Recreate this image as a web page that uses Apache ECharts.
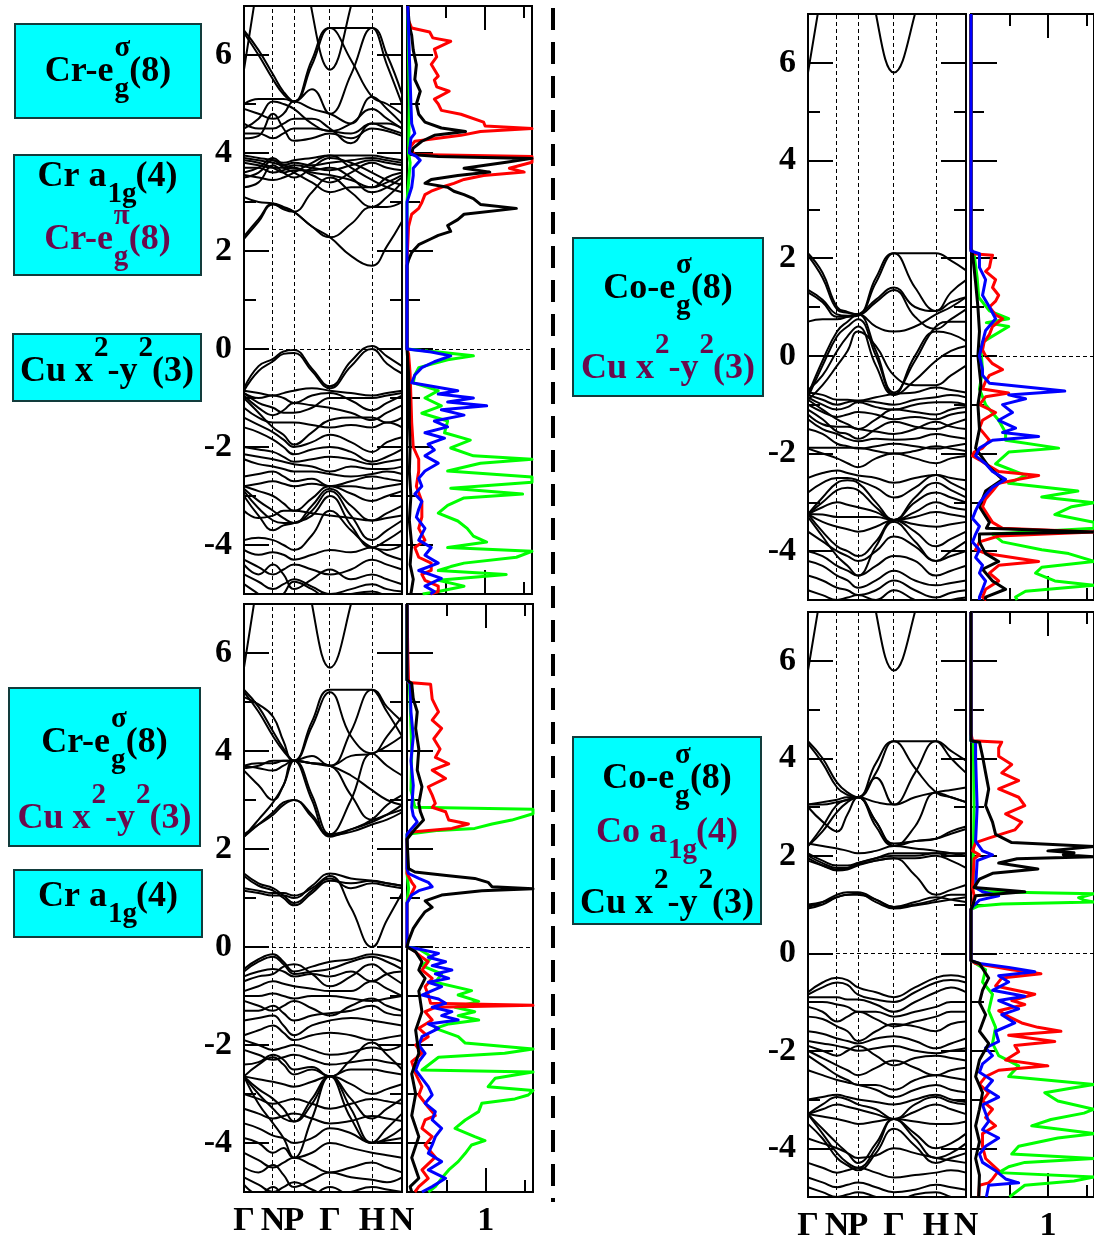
<!DOCTYPE html>
<html>
<head>
<meta charset="utf-8">
<script src="https://cdn.jsdelivr.net/npm/echarts@6/dist/echarts.min.js"></script>
<style>
html,body{margin:0;padding:0;background:#fff;}
#chart{width:1094px;height:1243px;}
</style>
</head>
<body>
<div id="chart"></div>
<script>
// ---------- k-path and axis ticks ----------
const kTicks = [0, 0.184, 0.316, 0.544, 0.81, 1.0];
const kLabels = ['Γ', 'N', 'P', 'Γ', 'H', 'N'];
// sampling of every band: high-symmetry points and the midpoints between them
const kGrid = [0, 0.092, 0.184, 0.25, 0.316, 0.43, 0.544, 0.677, 0.81, 0.905, 1.0];
const energyMajor = [-4, -2, 0, 2, 4, 6];
const energyMinor = [-3, -1, 1, 3, 5];
const dosMajor = [1];
const dosMinor = [0.5, 1.5];

// ---------- band energies (eV) at kGrid ----------
const bandsTL = [
  [5.7, 7.6, 9.5, 10, 9.5, 6.9, 5.7, 7.0, 9, 10, 10],
  [6.5, 6.1, 5.6, 5.25, 5.05, 5.9, 6.55, 6.55, 6.55, 6.0, 5.2],
  [6.45, 6.0, 5.5, 5.2, 5.05, 5.3, 4.8, 5.6, 6.55, 5.8, 5.0],
  [5.0, 5.1, 5.1, 5.1, 5.05, 5.8, 6.55, 5.9, 5.15, 5.0, 4.8],
  [4.9, 4.8, 4.7, 4.8, 5.05, 4.9, 4.8, 4.6, 5.15, 4.9, 4.6],
  [4.6, 4.5, 4.5, 4.6, 4.7, 4.7, 4.5, 4.2, 4.6, 4.6, 4.5],
  [4.4, 4.4, 4.3, 4.4, 4.5, 4.5, 4.45, 4.4, 4.6, 4.5, 4.4],
  [4.3, 4.35, 4.8, 4.5, 4.25, 4.3, 4.4, 4.3, 4.5, 4.45, 4.35],
  [4.5, 4.7, 5.05, 5.0, 4.9, 4.6, 4.45, 4.6, 4.9, 4.7, 4.5],
  [2.3, 2.65, 2.97, 2.9, 2.8, 2.5, 2.28, 2.55, 2.9, 2.9, 3.0],
  [3.1, 3.0, 2.97, 2.85, 2.8, 3.2, 3.5, 3.2, 2.9, 3.1, 3.4],
  [2.25, 2.6, 2.95, 2.88, 2.8, 2.5, 2.28, 1.9, 1.7, 2.1, 2.6],
  [3.9, 3.85, 3.8, 3.75, 3.8, 3.75, 3.8, 3.85, 3.9, 3.85, 3.8],
  [3.8, 3.75, 3.7, 3.7, 3.75, 3.7, 3.65, 3.75, 3.85, 3.8, 3.75],
  [3.7, 3.7, 3.6, 3.65, 3.7, 3.55, 3.4, 3.6, 3.8, 3.7, 3.65],
  [3.6, 3.7, 3.9, 3.75, 3.7, 3.6, 3.55, 3.45, 3.3, 3.5, 3.6],
  [3.5, 3.6, 3.85, 3.7, 3.6, 3.4, 3.2, 3.3, 3.3, 3.4, 3.55],
  [3.95, 3.9, 3.85, 3.8, 3.85, 3.9, 3.95, 3.95, 3.95, 3.9, 3.85],
  [3.3, 3.4, 3.75, 3.6, 3.5, 3.7, 3.9, 3.8, 3.6, 3.45, 3.35],
  [3.55, 3.5, 3.45, 3.5, 3.6, 3.8, 3.95, 3.7, 3.45, 3.3, 3.2],
  [3.85, 3.8, 3.7, 3.6, 3.65, 3.65, 3.7, 3.5, 3.2, 3.3, 3.5],
  [-0.8, -0.35, -0.2, -0.05, -0.02, -0.4, -0.76, -0.25, 0.06, -0.15, -0.35],
  [-0.85, -0.45, -0.25, -0.1, -0.08, -0.45, -0.8, -0.35, 0.0, -0.3, -0.5],
  [-0.85, -0.9, -0.95, -0.9, -0.85, -0.8, -0.85, -0.9, -0.95, -0.9, -0.85],
  [-0.9, -1.0, -0.95, -1.0, -1.1, -0.95, -0.9, -1.05, -1.25, -1.1, -0.95],
  [-0.95, -1.2, -1.35, -1.25, -1.1, -1.15, -1.2, -1.3, -1.45, -1.3, -1.15],
  [-1.0, -1.3, -1.6, -1.75, -1.95, -1.7, -1.45, -1.4, -1.4, -1.5, -1.4],
  [-1.2, -1.4, -1.5, -1.5, -1.5, -1.55, -1.6, -1.55, -1.6, -1.5, -1.6],
  [-1.4, -1.55, -1.7, -1.85, -2.0, -1.9, -1.75, -1.9, -2.1, -1.9, -1.8],
  [-1.6, -1.7, -1.85, -2.0, -2.15, -2.05, -2.0, -2.1, -2.3, -2.2, -2.05],
  [-2.0, -2.05, -2.1, -2.2, -2.3, -2.25, -2.2, -2.25, -2.35, -2.3, -2.25],
  [-2.15, -2.2, -2.25, -2.3, -2.35, -2.4, -2.5, -2.4, -2.45, -2.45, -2.4],
  [-2.25, -2.35, -2.4, -2.45, -2.5, -2.5, -2.55, -2.6, -2.55, -2.5, -2.55],
  [-2.6, -2.55, -2.5, -2.6, -2.7, -2.65, -2.8, -2.7, -2.6, -2.65, -2.7],
  [-2.8, -2.75, -2.7, -2.75, -2.8, -2.75, -2.8, -2.8, -2.85, -2.8, -2.75],
  [-2.8, -2.9, -3.0, -3.15, -3.3, -3.05, -2.8, -2.95, -3.1, -3.0, -2.9],
  [-2.85, -3.1, -3.3, -3.45, -3.55, -3.2, -2.85, -3.2, -3.5, -3.35, -3.2],
  [-2.9, -3.25, -3.5, -3.55, -3.55, -3.3, -2.9, -3.4, -3.9, -3.7, -3.5],
  [-3.0, -3.4, -3.7, -3.6, -3.55, -3.4, -3.0, -3.6, -4.05, -3.9, -3.7],
  [-3.3, -3.45, -3.4, -3.3, -3.3, -3.35, -3.4, -3.45, -3.5, -3.45, -3.4],
  [-3.9, -3.85, -3.9, -4.0, -4.1, -3.8, -3.3, -3.7, -4.05, -4.1, -4.0],
  [-4.1, -4.2, -4.15, -4.2, -4.3, -4.2, -4.1, -4.15, -4.05, -4.2, -4.3],
  [-4.3, -4.45, -4.6, -4.5, -4.4, -4.5, -4.6, -4.5, -4.3, -4.4, -4.5],
  [-4.4, -4.6, -4.4, -4.6, -4.9, -4.7, -4.5, -4.7, -4.6, -4.7, -4.8],
  [-4.6, -4.75, -4.9, -4.8, -4.7, -4.85, -5.0, -4.9, -4.8, -4.9, -4.95],
  [-4.8, -5.0, -5.2, -5.0, -4.75, -4.9, -5.1, -5.0, -4.95, -5.05, -5.2],
  [-0.9, -1.1, -1.2, -1.3, -1.3, -1.2, -1.0, -1.0, -1.0, -0.95, -0.9]
];

const bandsBL = [
  [5.7, 7.6, 9.5, 10, 9.5, 7.0, 5.7, 7.0, 9, 10, 10],
  [5.25, 4.9, 4.4, 4.05, 3.8, 4.6, 5.25, 5.25, 5.25, 4.9, 4.6],
  [5.2, 4.8, 4.3, 4.0, 3.8, 4.5, 5.2, 4.3, 3.95, 4.3, 4.7],
  [3.65, 3.7, 3.8, 3.8, 3.8, 3.75, 3.7, 4.4, 5.25, 4.8, 4.3],
  [3.7, 3.75, 3.75, 3.8, 3.8, 3.1, 2.3, 3.0, 3.95, 3.7, 3.5],
  [3.6, 3.3, 3.0, 3.3, 3.8, 3.0, 2.25, 2.4, 2.6, 2.9, 3.1],
  [2.25, 2.6, 2.95, 3.3, 3.8, 3.75, 3.7, 3.1, 2.6, 2.7, 2.8],
  [2.3, 2.5, 2.7, 2.9, 3.0, 2.7, 2.3, 2.4, 2.55, 2.7, 2.9],
  [2.25, 2.5, 2.75, 2.95, 3.0, 2.65, 2.28, 2.35, 2.5, 2.6, 2.75],
  [3.7, 3.65, 3.6, 3.7, 3.8, 3.75, 3.7, 3.5, 3.2, 3.0, 2.9],
  [5.1, 4.95, 4.7, 4.2, 3.8, 3.9, 3.7, 3.9, 3.95, 4.1, 4.3],
  [1.5, 1.3, 1.2, 1.05, 0.9, 1.15, 1.4, 1.2, 1.3, 1.25, 1.2],
  [1.45, 1.25, 1.15, 1.0, 0.85, 1.1, 1.35, 1.3, 1.35, 1.3, 1.25],
  [1.2, 1.15, 1.1, 1.1, 1.05, 1.2, 1.45, 0.8, 0.0, 0.55, 1.1],
  [1.15, 1.1, 1.05, 1.05, 1.0, 1.25, 1.5, 1.4, 1.35, 1.3, 1.25],
  [-0.45, -0.25, -0.15, -0.3, -0.5, -0.4, -0.3, -0.25, -0.15, -0.2, -0.3],
  [-0.5, -0.3, -0.2, -0.35, -0.55, -0.5, -0.45, -0.3, -0.2, -0.3, -0.45],
  [-0.6, -0.5, -0.45, -0.5, -0.6, -0.55, -0.6, -0.5, -0.7, -0.55, -0.5],
  [-0.7, -0.6, -0.55, -0.4, -0.35, -0.55, -0.8, -0.6, -0.35, -0.55, -0.75],
  [-0.9, -0.8, -0.7, -0.75, -0.8, -0.85, -0.9, -0.9, -0.7, -0.85, -1.0],
  [-1.0, -1.0, -0.95, -1.0, -1.05, -1.0, -1.0, -1.05, -1.1, -1.05, -1.0],
  [-1.1, -1.2, -1.3, -1.2, -1.1, -1.25, -1.4, -1.2, -1.05, -1.2, -1.3],
  [-1.3, -1.3, -1.2, -1.35, -1.5, -1.4, -1.35, -1.3, -1.2, -1.35, -1.4],
  [-1.5, -1.45, -1.4, -1.6, -1.8, -1.6, -1.5, -1.45, -1.5, -1.55, -1.6],
  [-1.8, -1.7, -1.6, -1.75, -1.9, -1.8, -1.75, -1.8, -1.9, -1.85, -1.8],
  [-1.9, -2.0, -2.1, -2.05, -2.0, -2.1, -2.2, -2.15, -2.05, -2.1, -2.0],
  [-2.1, -2.2, -2.3, -2.25, -2.2, -2.3, -2.4, -2.35, -2.3, -2.35, -2.4],
  [-2.4, -2.35, -2.2, -2.3, -2.5, -2.45, -2.64, -2.5, -2.5, -2.55, -2.6],
  [-2.64, -2.4, -2.25, -2.4, -2.6, -2.5, -2.64, -2.3, -1.95, -2.2, -2.5],
  [-2.64, -2.7, -2.75, -2.8, -2.85, -2.75, -2.64, -2.8, -3.0, -2.9, -2.8],
  [-2.64, -2.9, -3.1, -3.3, -3.56, -3.1, -2.64, -3.1, -3.5, -3.3, -3.1],
  [-2.64, -3.0, -3.3, -3.5, -3.56, -3.2, -2.64, -3.3, -3.99, -3.7, -3.4],
  [-2.64, -3.2, -3.6, -3.9, -4.3, -3.5, -2.64, -3.5, -4.0, -3.9, -3.7],
  [-3.0, -3.1, -3.2, -3.15, -3.1, -3.2, -3.3, -3.2, -3.1, -3.15, -3.2],
  [-3.3, -3.4, -3.5, -3.45, -3.4, -3.5, -3.6, -3.55, -3.45, -3.5, -3.55],
  [-3.6, -3.7, -3.85, -3.9, -4.0, -3.9, -3.7, -3.8, -4.0, -3.95, -3.9],
  [-3.9, -4.0, -4.2, -4.1, -4.3, -4.2, -4.0, -4.1, -4.2, -4.25, -4.3],
  [-4.2, -4.35, -4.5, -4.4, -4.3, -4.45, -4.6, -4.5, -4.4, -4.5, -4.6],
  [-4.5, -4.6, -4.45, -4.65, -4.9, -4.75, -4.6, -4.7, -4.75, -4.8, -4.7],
  [-4.7, -4.85, -5.0, -4.9, -4.8, -4.95, -5.1, -5.0, -4.9, -4.95, -5.0],
  [-4.85, -5.05, -4.9, -5.1, -5.3, -5.1, -4.9, -5.1, -5.2, -5.1, -5.05]
];

const bandsTR = [
  [5.8, 7.6, 9.5, 10, 9.5, 7.0, 5.8, 7.0, 9, 10, 10],
  [2.1, 1.7, 1.0, 0.9, 0.85, 1.6, 2.1, 2.1, 2.1, 1.95, 1.75],
  [2.05, 1.6, 0.95, 0.88, 0.85, 1.5, 2.1, 1.4, 0.92, 1.3, 1.55],
  [1.35, 1.15, 0.85, 0.82, 0.85, 1.15, 1.4, 1.0, 0.92, 1.1, 1.2],
  [1.3, 1.1, 0.8, 0.8, 0.82, 1.1, 1.35, 0.8, 0.55, 0.75, 0.95],
  [-0.8, -0.1, 0.5, 0.7, 0.85, 0.1, -0.75, -0.1, 0.6, 0.7, 0.7],
  [-0.85, -0.2, 0.4, 0.6, 0.75, 0.0, -0.8, 0.0, 0.5, 0.45, 0.3],
  [-0.7, -0.4, 0.1, 0.4, 0.6, -0.2, -0.8, -0.5, -0.1, 0.1, 0.2],
  [-0.9, -0.6, -0.2, 0.1, 0.5, 0.2, -0.4, -0.6, -0.6, -0.4, -0.2],
  [0.7, 0.75, 0.75, 0.8, 0.85, 0.6, 0.5, 0.6, 0.85, 1.0, 1.2],
  [-0.75, -0.8, -0.9, -0.9, -0.92, -0.85, -0.78, -0.75, -0.65, -0.7, -0.75],
  [-0.8, -0.9, -1.0, -0.95, -0.92, -0.95, -1.0, -0.9, -0.85, -0.8, -0.85],
  [-0.85, -1.0, -1.1, -1.05, -0.95, -1.05, -1.1, -1.0, -0.95, -0.95, -1.0],
  [-0.9, -1.1, -1.3, -1.4, -1.5, -1.3, -1.1, -1.15, -1.2, -1.1, -1.05],
  [-1.0, -1.15, -1.25, -1.2, -1.15, -1.2, -1.3, -1.25, -1.3, -1.2, -1.15],
  [-1.1, -1.3, -1.55, -1.6, -1.7, -1.5, -1.35, -1.45, -1.5, -1.4, -1.3],
  [-1.2, -1.4, -1.45, -1.45, -1.5, -1.55, -1.6, -1.5, -1.35, -1.45, -1.5],
  [-1.3, -1.5, -1.6, -1.7, -1.75, -1.7, -1.72, -1.7, -1.6, -1.65, -1.7],
  [-1.5, -1.6, -1.8, -1.85, -1.9, -1.85, -1.8, -1.85, -1.9, -1.85, -1.8],
  [-1.88, -1.88, -1.88, -1.88, -1.88, -1.95, -2.0, -1.95, -1.85, -1.9, -1.95],
  [-1.9, -2.0, -2.1, -2.2, -2.28, -2.1, -2.0, -2.1, -2.2, -2.1, -2.05],
  [-2.5, -2.4, -2.35, -2.4, -2.45, -2.5, -2.6, -2.5, -2.44, -2.5, -2.55],
  [-2.8, -2.6, -2.5, -2.5, -2.55, -2.7, -2.9, -2.7, -2.44, -2.6, -2.75],
  [-3.24, -2.9, -2.6, -2.55, -2.6, -3.0, -3.36, -2.9, -2.6, -2.75, -2.9],
  [-3.24, -3.0, -2.75, -2.7, -2.75, -3.1, -3.36, -3.0, -2.8, -2.9, -3.0],
  [-3.24, -3.1, -3.0, -3.05, -3.1, -3.2, -3.36, -3.2, -3.0, -3.1, -3.15],
  [-3.24, -3.25, -3.3, -3.3, -3.3, -3.3, -3.36, -3.3, -3.2, -3.25, -3.3],
  [-3.24, -3.4, -3.5, -3.55, -3.6, -3.5, -3.36, -3.45, -3.5, -3.45, -3.4],
  [-3.24, -3.6, -3.9, -4.0, -4.1, -3.8, -3.36, -3.6, -3.9, -3.75, -3.6],
  [-3.3, -3.7, -4.1, -4.3, -4.5, -3.9, -3.4, -3.8, -4.2, -4.0, -3.8],
  [-3.6, -3.8, -4.0, -4.1, -4.2, -4.0, -3.7, -3.9, -4.2, -4.1, -4.0],
  [-4.0, -4.1, -4.3, -4.4, -4.5, -4.3, -4.1, -4.2, -4.5, -4.4, -4.3],
  [-4.2, -4.3, -4.5, -4.6, -4.75, -4.6, -4.4, -4.6, -4.7, -4.65, -4.6],
  [-4.5, -4.6, -4.75, -4.8, -4.9, -4.8, -4.6, -4.8, -4.95, -4.85, -4.8],
  [-4.8, -4.9, -5.0, -4.95, -4.9, -5.0, -4.8, -5.0, -5.1, -5.0, -4.95]
];

const bandsBR = [
  [5.8, 7.6, 9.5, 10, 9.5, 7.0, 5.8, 7.0, 9, 10, 10],
  [4.35, 4.0, 3.5, 3.3, 3.2, 3.9, 4.35, 4.35, 4.35, 4.15, 3.95],
  [4.3, 3.9, 3.4, 3.25, 3.2, 3.6, 3.05, 3.7, 4.35, 4.0, 3.7],
  [3.05, 3.1, 3.15, 3.2, 3.2, 3.7, 4.35, 3.8, 3.3, 3.2, 3.1],
  [3.05, 3.05, 3.1, 3.15, 3.2, 3.1, 3.05, 3.2, 3.3, 3.35, 3.4],
  [3.0, 2.7, 2.5, 2.85, 3.2, 2.7, 2.2, 2.6, 3.3, 3.2, 3.1],
  [2.2, 2.6, 3.05, 3.15, 3.2, 2.6, 2.2, 2.3, 2.35, 2.45, 2.55],
  [2.2, 2.5, 2.9, 3.1, 3.2, 2.7, 2.25, 2.3, 2.35, 2.5, 2.6],
  [2.25, 2.2, 2.15, 2.1, 2.05, 2.1, 2.2, 2.15, 2.1, 2.05, 2.0],
  [2.0, 1.85, 1.75, 1.75, 1.85, 1.95, 2.0, 2.0, 2.05, 2.0, 2.0],
  [1.95, 1.8, 1.7, 1.72, 1.8, 1.9, 1.95, 1.95, 2.0, 1.9, 1.75],
  [1.9, 1.8, 1.72, 1.75, 1.82, 1.9, 1.95, 1.6, 1.2, 1.3, 1.4],
  [2.05, 1.9, 1.8, 1.8, 1.85, 1.95, 2.05, 2.05, 2.05, 2.05, 2.05],
  [0.95, 1.05, 1.2, 1.25, 1.25, 1.1, 0.95, 1.0, 1.1, 1.2, 1.2],
  [0.92, 1.0, 1.15, 1.2, 1.22, 1.05, 0.92, 0.98, 1.05, 1.1, 1.15],
  [1.0, 1.05, 1.15, 1.2, 1.2, 1.1, 0.95, 1.05, 1.15, 1.1, 1.05],
  [-0.8, -0.6, -0.5, -0.55, -0.7, -0.8, -0.9, -0.7, -0.5, -0.45, -0.5],
  [-0.85, -0.7, -0.6, -0.65, -0.85, -0.95, -1.0, -0.8, -0.6, -0.55, -0.6],
  [-0.9, -0.9, -0.9, -0.95, -0.95, -1.05, -1.2, -1.0, -0.8, -0.7, -0.8],
  [-1.0, -1.0, -1.05, -1.1, -1.2, -1.2, -1.3, -1.2, -1.1, -1.0, -1.0],
  [-1.1, -1.2, -1.4, -1.3, -1.2, -1.35, -1.5, -1.4, -1.3, -1.2, -1.2],
  [-1.3, -1.35, -1.5, -1.6, -1.8, -1.6, -1.45, -1.5, -1.6, -1.45, -1.4],
  [-1.6, -1.65, -1.75, -1.8, -1.85, -1.75, -1.7, -1.8, -1.95, -1.85, -1.75],
  [-1.8, -1.85, -1.9, -1.95, -2.0, -1.95, -1.9, -2.0, -2.05, -2.0, -1.95],
  [-1.9, -2.0, -2.1, -2.0, -1.9, -2.1, -2.3, -2.15, -2.1, -2.15, -2.2],
  [-2.0, -2.15, -2.3, -2.4, -2.5, -2.35, -2.2, -2.35, -2.5, -2.4, -2.35],
  [-2.1, -2.3, -2.5, -2.6, -2.7, -2.7, -2.8, -2.6, -2.5, -2.55, -2.6],
  [-2.4, -2.5, -2.6, -2.65, -2.7, -2.8, -2.95, -2.8, -2.7, -2.8, -2.85],
  [-3.0, -2.95, -2.9, -2.95, -3.0, -3.05, -3.1, -3.0, -2.9, -3.0, -3.05],
  [-3.3, -3.1, -2.95, -3.0, -3.1, -3.2, -3.4, -3.1, -2.95, -3.05, -3.1],
  [-3.3, -3.2, -3.1, -3.15, -3.2, -3.3, -3.4, -3.25, -3.1, -3.2, -3.3],
  [-3.3, -3.35, -3.4, -3.45, -3.5, -3.45, -3.4, -3.45, -3.5, -3.5, -3.45],
  [-3.3, -3.6, -3.9, -4.1, -4.3, -3.9, -3.4, -3.7, -4.0, -3.9, -3.7],
  [-3.3, -3.7, -4.1, -4.3, -4.4, -4.0, -3.4, -3.8, -4.2, -4.1, -3.9],
  [-3.5, -3.8, -4.2, -4.35, -4.45, -4.1, -3.6, -3.95, -4.3, -4.2, -4.1],
  [-3.8, -3.9, -4.0, -4.1, -4.2, -4.15, -4.0, -4.1, -4.2, -4.25, -4.3],
  [-4.3, -4.4, -4.5, -4.45, -4.4, -4.5, -4.6, -4.55, -4.5, -4.45, -4.5],
  [-4.6, -4.7, -4.8, -4.75, -4.7, -4.8, -4.9, -4.85, -4.75, -4.8, -4.85],
  [-4.8, -4.9, -5.0, -4.95, -4.9, -5.0, -5.1, -4.95, -4.9, -5.0, -5.05]
];

// ---------- projected DOS: [energy (eV), states/eV] ----------
const dosTL_black = [[-5,0.05],[-4.7,0.08],[-4.4,0.04],[-4,0.06],[-3.5,0.03],[-3,0.05],[-2.5,0.03],[-2,0.04],[-1.5,0.03],[-1,0.03],[-0.5,0.02],[0,0],[1.7,0],[1.82,0.02],[1.97,0.06],[2.13,0.15],[2.25,0.31],[2.32,0.40],[2.40,0.56],[2.52,0.52],[2.64,0.65],[2.75,0.73],[2.87,1.40],[2.95,0.94],[3.07,0.85],[3.15,0.73],[3.22,0.60],[3.30,0.52],[3.38,0.23],[3.46,0.31],[3.54,0.65],[3.61,1.06],[3.69,0.73],[3.81,1.27],[3.89,1.6],[3.93,0.4],[3.97,0.05],[4.1,0.08],[4.24,0.19],[4.36,0.35],[4.44,0.75],[4.51,0.44],[4.63,0.23],[4.79,0.15],[5.0,0.12],[5.26,0.17],[5.5,0.10],[5.8,0.12],[6.1,0.08],[6.4,0.06],[6.6,0.03],[7,0.01]];
const dosTL_red = [[-5.0,0.30],[-4.95,0.40],[-4.84,0.40],[-4.72,0.23],[-4.60,0.19],[-4.52,0.31],[-4.37,0.31],[-4.25,0.15],[-4.05,0.10],[-3.90,0.23],[-3.66,0.15],[-3.43,0.19],[-3.11,0.19],[-2.80,0.12],[-2.49,0.15],[-2.25,0.15],[-2.00,0.08],[-1.50,0.06],[-1.00,0.05],[-0.50,0.04],[-0.10,0.02],[0,0],[1.80,0],[2.50,0.02],[2.75,0.06],[2.87,0.15],[2.99,0.19],[3.15,0.23],[3.22,0.31],[3.30,0.44],[3.38,0.60],[3.46,0.73],[3.54,0.98],[3.61,1.50],[3.69,1.31],[3.81,1.60],[3.93,1.60],[3.97,0.10],[4.10,0.03],[4.24,0.10],[4.36,0.69],[4.44,0.94],[4.50,1.60],[4.55,1.00],[4.63,0.98],[4.79,0.69],[4.87,0.44],[5.00,0.40],[5.10,0.35],[5.26,0.54],[5.35,0.38],[5.49,0.35],[5.57,0.40],[5.81,0.31],[5.96,0.38],[6.12,0.35],[6.28,0.56],[6.35,0.33],[6.47,0.29],[6.55,0.06],[6.70,0.02],[7.00,0.01]];
const dosTL_green = [[-5,0.2],[-4.95,0.4],[-4.84,0.73],[-4.72,0.40],[-4.6,1.27],[-4.52,0.4],[-4.44,0.56],[-4.37,0.73],[-4.25,1.40],[-4.13,1.6],[-4.05,0.52],[-3.94,1.02],[-3.82,0.85],[-3.66,0.77],[-3.51,0.65],[-3.35,0.40],[-3.19,0.52],[-3.04,0.73],[-2.96,1.48],[-2.84,0.56],[-2.72,1.6],[-2.61,1.6],[-2.49,0.52],[-2.33,0.94],[-2.25,1.6],[-2.18,0.85],[-2.02,0.56],[-1.86,0.81],[-1.71,0.48],[-1.47,0.52],[-1.31,0.19],[-1.16,0.44],[-1.0,0.23],[-0.85,0.40],[-0.69,0.08],[-0.53,0.10],[-0.38,0.15],[-0.22,0.52],[-0.14,0.85],[-0.06,0.4],[0,0],[3,0],[3.8,0.04],[4,0.02],[5,0.03],[6,0.02],[7,0.01]];
const dosTL_blue = [[-5,0.3],[-4.95,0.35],[-4.84,0.23],[-4.68,0.44],[-4.52,0.15],[-4.37,0.40],[-4.21,0.23],[-4.05,0.31],[-3.9,0.15],[-3.66,0.23],[-3.43,0.12],[-3.27,0.15],[-3.11,0.19],[-2.96,0.10],[-2.8,0.19],[-2.64,0.15],[-2.49,0.23],[-2.33,0.40],[-2.18,0.23],[-2.06,0.35],[-1.94,0.27],[-1.82,0.48],[-1.71,0.23],[-1.59,0.52],[-1.47,0.35],[-1.35,0.73],[-1.24,0.44],[-1.16,1.02],[-1.08,0.52],[-1.0,0.85],[-0.92,0.40],[-0.85,0.65],[-0.69,0.06],[-0.53,0.10],[-0.38,0.19],[-0.26,0.35],[-0.14,0.56],[-0.06,0.31],[0,0],[3.0,0],[3.3,0.06],[3.54,0.08],[3.69,0.08],[3.85,0.17],[3.93,0.12],[4.0,0.03],[4.3,0.05],[4.4,0.1],[4.6,0.06],[5,0.05],[5.5,0.04],[6,0.03],[6.5,0.02],[7,0.01]];

const dosBL_black = [[-5,0.06],[-4.89,0.04],[-4.72,0.15],[-4.3,0.06],[-3.87,0.15],[-3.44,0.06],[-3.0,0.11],[-2.59,0.06],[-2.17,0.15],[-1.7,0.11],[-1.32,0.19],[-0.9,0.15],[-0.64,0.23],[-0.47,0.15],[-0.3,0.19],[-0.1,0.11],[0,0],[0.13,0.02],[0.38,0.08],[0.55,0.15],[0.72,0.23],[0.81,0.32],[0.94,0.23],[1.06,0.44],[1.15,0.95],[1.19,1.6],[1.23,1.08],[1.32,1.03],[1.40,0.86],[1.46,0.5],[1.53,0.1],[1.6,0.02],[2.2,0],[2.42,0.11],[2.59,0.21],[2.76,0.17],[2.93,0.15],[3.27,0.19],[3.61,0.13],[4.04,0.15],[4.46,0.11],[4.8,0.13],[5.06,0.08],[5.38,0.06],[5.45,0],[7,0]];
const dosBL_red = [[-5,0.1],[-4.89,0.15],[-4.72,0.27],[-4.55,0.19],[-4.29,0.36],[-4.04,0.23],[-3.87,0.32],[-3.70,0.19],[-3.53,0.23],[-3.44,0.36],[-3.27,0.27],[-3.02,0.15],[-2.85,0.19],[-2.59,0.11],[-2.34,0.06],[-2.17,0.19],[-2.0,0.11],[-1.83,0.27],[-1.66,0.15],[-1.49,0.32],[-1.32,0.23],[-1.23,0.36],[-1.19,1.6],[-1.15,0.3],[-0.98,0.27],[-0.81,0.23],[-0.64,0.32],[-0.47,0.19],[-0.30,0.27],[-0.21,0.19],[-0.04,0.06],[0,0],[0.9,0],[1.23,0.1],[1.32,0.06],[1.5,0],[2.2,0],[2.34,0.02],[2.42,0.57],[2.51,0.78],[2.59,0.53],[2.76,0.49],[2.85,0.32],[2.93,0.36],[3.10,0.32],[3.27,0.27],[3.44,0.49],[3.61,0.32],[3.74,0.53],[3.87,0.36],[4.04,0.42],[4.25,0.34],[4.46,0.44],[4.63,0.32],[4.80,0.40],[5.06,0.32],[5.36,0.30],[5.40,0.02],[6,0.01],[7,0]];
const dosBL_green = [[-5.0,0.27],[-4.89,0.36],[-4.72,0.44],[-4.55,0.53],[-4.38,0.65],[-4.21,0.74],[-4.04,0.82],[-3.95,0.99],[-3.87,0.86],[-3.70,0.61],[-3.53,0.74],[-3.36,0.91],[-3.19,0.95],[-3.10,1.37],[-3.02,1.54],[-2.93,1.6],[-2.85,1.03],[-2.68,1.12],[-2.55,1.6],[-2.51,0.19],[-2.25,0.40],[-2.17,1.24],[-2.08,1.6],[-1.96,0.74],[-1.83,0.65],[-1.66,0.36],[-1.57,0.53],[-1.49,0.91],[-1.40,0.65],[-1.32,0.86],[-1.23,0.61],[-1.11,0.91],[-0.98,0.65],[-0.89,0.82],[-0.72,0.36],[-0.55,0.44],[-0.38,0.19],[-0.21,0.32],[-0.04,0.15],[0,0],[0.9,0],[1.2,0.02],[1.5,0],[2.3,0],[2.38,0.40],[2.42,0.86],[2.51,1.08],[2.59,1.33],[2.72,1.6],[2.81,1.6],[2.85,0.1],[3.2,0.05],[4,0.06],[5,0.04],[5.38,0.03],[5.45,0],[7,0]];
const dosBL_blue = [[-5.0,0.19],[-4.89,0.32],[-4.72,0.49],[-4.55,0.27],[-4.38,0.44],[-4.21,0.27],[-4.04,0.32],[-3.87,0.36],[-3.70,0.44],[-3.53,0.32],[-3.36,0.36],[-3.19,0.23],[-3.02,0.32],[-2.85,0.27],[-2.68,0.19],[-2.51,0.11],[-2.34,0.15],[-2.17,0.23],[-2.0,0.15],[-1.83,0.19],[-1.66,0.40],[-1.57,0.27],[-1.49,0.65],[-1.40,0.44],[-1.32,0.57],[-1.23,0.32],[-1.15,0.49],[-1.06,0.40],[-0.98,0.19],[-0.89,0.32],[-0.81,0.44],[-0.72,0.27],[-0.64,0.53],[-0.55,0.36],[-0.47,0.57],[-0.38,0.32],[-0.30,0.49],[-0.21,0.27],[-0.13,0.40],[-0.04,0.15],[0,0],[0.9,0],[1.06,0.06],[1.15,0.15],[1.23,0.32],[1.32,0.27],[1.40,0.15],[1.5,0.02],[1.6,0],[2.3,0],[2.42,0.06],[2.55,0.13],[2.68,0.08],[2.85,0.06],[3.3,0.08],[3.8,0.05],[4.3,0.08],[4.8,0.05],[5.38,0.04],[5.45,0],[7,0]];

const dosTR_black = [[-5,0.19],[-4.94,0.19],[-4.78,0.45],[-4.61,0.28],[-4.37,0.15],[-4.21,0.36],[-4.05,0.19],[-3.81,0.11],[-3.65,0.11],[-3.61,1.6],[-3.53,0.2],[-3.41,0.24],[-3.09,0.11],[-2.77,0.19],[-2.53,0.41],[-2.29,0.24],[-1.89,0.06],[-1.5,0.11],[-1.0,0.09],[-0.6,0.13],[0,0.09],[0.5,0.11],[1.0,0.09],[1.5,0.06],[2.09,0.02],[2.15,0],[7,0]];
const dosTR_red = [[-5,0.2],[-4.94,0.15],[-4.78,0.19],[-4.61,0.36],[-4.45,0.24],[-4.29,0.36],[-4.21,0.88],[-4.13,0.54],[-4.05,0.2],[-3.97,0.06],[-3.81,0.11],[-3.69,0.36],[-3.61,1.6],[-3.53,0.41],[-3.41,0.28],[-3.09,0.15],[-2.93,0.19],[-2.77,0.28],[-2.61,0.36],[-2.53,0.62],[-2.45,0.88],[-2.37,0.36],[-2.21,0.19],[-2.13,0.11],[-2.05,0.02],[-1.97,0.04],[-1.89,0.15],[-1.73,0.24],[-1.48,0.11],[-1.32,0.15],[-1.16,0.32],[-1.0,0.11],[-0.84,0.19],[-0.76,0.49],[-0.68,0.15],[-0.52,0.19],[-0.40,0.24],[-0.28,0.41],[-0.16,0.28],[0,0.19],[0.12,0.15],[0.28,0.17],[0.44,0.24],[0.60,0.28],[0.76,0.41],[0.84,0.32],[1.00,0.24],[1.12,0.32],[1.24,0.36],[1.40,0.28],[1.56,0.32],[1.73,0.19],[1.81,0.24],[1.97,0.26],[2.06,0.28],[2.09,0.02],[2.2,0],[7,0]];
const dosTR_green = [[-5,0.6],[-4.94,0.58],[-4.82,0.71],[-4.70,1.6],[-4.61,1.09],[-4.45,0.84],[-4.33,0.92],[-4.21,1.6],[-4.05,1.27],[-3.97,0.92],[-3.81,0.41],[-3.65,0.28],[-3.53,1.6],[-3.41,1.6],[-3.25,1.09],[-3.09,1.31],[-3.01,1.6],[-2.89,0.92],[-2.77,1.39],[-2.61,0.49],[-2.45,0.71],[-2.21,0.32],[-1.97,0.49],[-1.89,1.14],[-1.73,0.45],[-1.57,0.45],[-1.32,0.36],[-1.0,0.19],[-0.68,0.11],[-0.3,0.15],[0.12,0.13],[0.28,0.15],[0.60,0.49],[0.68,0.2],[0.76,0.49],[0.92,0.24],[1.2,0.1],[1.6,0.08],[2.09,0.04],[2.2,0],[7,0]];
const dosTR_blue = [[-5,0.11],[-4.94,0.11],[-4.78,0.15],[-4.61,0.19],[-4.45,0.11],[-4.29,0.15],[-4.13,0.06],[-3.97,0.11],[-3.81,0.02],[-3.65,0.06],[-3.49,0.11],[-3.33,0.02],[-3.17,0.06],[-3.01,0.11],[-2.85,0.19],[-2.69,0.28],[-2.53,0.45],[-2.37,0.28],[-2.21,0.19],[-2.05,0.06],[-1.89,0.11],[-1.73,0.28],[-1.65,0.88],[-1.57,0.41],[-1.48,0.58],[-1.32,0.36],[-1.16,0.54],[-1.0,0.41],[-0.88,0.71],[-0.80,0.49],[-0.72,1.22],[-0.56,0.24],[-0.40,0.15],[-0.28,0.15],[0,0.11],[0.28,0.15],[0.52,0.19],[0.76,0.32],[1.0,0.24],[1.24,0.15],[1.56,0.19],[1.81,0.11],[2.09,0.11],[2.15,0],[7,0]];

const dosBR_black = [[-5,0.1],[-4.55,0.11],[-4.21,0.06],[-3.87,0.11],[-3.54,0.06],[-3.20,0.11],[-2.86,0.15],[-2.53,0.06],[-2.19,0.11],[-1.85,0.23],[-1.60,0.11],[-1.26,0.19],[-1.01,0.11],[-0.76,0.15],[-0.51,0.23],[-0.21,0.11],[-0.15,0],[0.9,0],[0.97,0.02],[1.18,0.06],[1.26,0.70],[1.35,0.04],[1.52,0.11],[1.64,0.28],[1.73,0.87],[1.85,0.36],[1.94,0.6],[1.98,1.6],[2.02,1.2],[2.06,1.34],[2.10,1.0],[2.19,1.6],[2.27,0.53],[2.44,0.32],[2.69,0.28],[3.03,0.19],[3.37,0.23],[3.70,0.19],[4.04,0.15],[4.33,0.11],[4.36,0],[7,0]];
const dosBR_red = [[-5,0.1],[-4.76,0.11],[-4.71,0.23],[-4.63,0.28],[-4.46,0.36],[-4.21,0.19],[-3.96,0.15],[-3.70,0.15],[-3.54,0.32],[-3.37,0.19],[-3.20,0.28],[-3.03,0.15],[-2.86,0.23],[-2.69,0.11],[-2.53,0.19],[-2.40,0.36],[-2.31,1.0],[-2.19,0.45],[-2.02,0.62],[-1.89,0.57],[-1.81,1.09],[-1.68,0.49],[-1.60,1.17],[-1.52,0.87],[-1.43,0.66],[-1.30,0.49],[-1.18,0.36],[-1.05,0.70],[-0.97,0.53],[-0.84,0.83],[-0.67,0.32],[-0.51,0.40],[-0.42,0.91],[-0.34,0.53],[-0.21,0.06],[-0.15,0],[0.9,0],[0.97,0.02],[1.18,0.04],[1.35,0.02],[1.94,0.04],[2.02,0.11],[2.10,0.02],[2.27,0.06],[2.36,0.23],[2.53,0.57],[2.69,0.66],[2.86,0.45],[3.03,0.70],[3.20,0.62],[3.37,0.36],[3.54,0.62],[3.70,0.40],[3.87,0.53],[4.04,0.36],[4.21,0.36],[4.33,0.40],[4.36,0.02],[4.5,0],[7,0]];
const dosBR_green = [[-5,0.5],[-4.76,0.7],[-4.67,1.34],[-4.59,1.6],[-4.50,0.36],[-4.38,0.49],[-4.29,0.70],[-4.21,1.6],[-4.12,0.53],[-3.96,0.62],[-3.79,1.13],[-3.70,1.6],[-3.54,0.79],[-3.41,1.04],[-3.28,1.47],[-3.20,1.6],[-3.03,1.13],[-2.86,0.96],[-2.78,1.26],[-2.69,1.6],[-2.53,0.49],[-2.31,0.62],[-2.10,0.36],[-1.85,0.28],[-1.52,0.32],[-1.18,0.23],[-0.84,0.28],[-0.59,0.15],[-0.34,0.19],[-0.21,0.06],[-0.15,0],[0.9,0],[0.97,0.1],[1.01,0.4],[1.05,1.6],[1.09,1.47],[1.14,1.4],[1.18,1.5],[1.22,1.6],[1.26,0.2],[1.35,0.03],[2.0,0.03],[3.0,0.04],[4.33,0.03],[4.36,0],[7,0]];
const dosBR_blue = [[-5,0.2],[-4.76,0.23],[-4.71,0.62],[-4.63,0.45],[-4.46,0.32],[-4.29,0.15],[-4.12,0.11],[-3.96,0.19],[-3.79,0.36],[-3.62,0.15],[-3.45,0.23],[-3.28,0.19],[-3.11,0.15],[-2.95,0.36],[-2.78,0.19],[-2.61,0.28],[-2.44,0.11],[-2.27,0.15],[-2.10,0.28],[-1.94,0.19],[-1.81,0.36],[-1.60,0.32],[-1.43,0.57],[-1.26,0.40],[-1.14,0.62],[-0.97,0.36],[-0.88,0.70],[-0.76,0.28],[-0.59,0.49],[-0.46,0.36],[-0.38,0.83],[-0.29,0.49],[-0.21,0.11],[-0.15,0],[0.9,0],[0.97,0.03],[1.09,0.11],[1.18,0.36],[1.26,0.15],[1.35,0.06],[1.9,0.08],[2.02,0.28],[2.10,0.15],[2.3,0.06],[3.0,0.08],[4.0,0.06],[4.33,0.06],[4.36,0],[7,0]];

// ---------- layout ----------
const SERIF = '"Liberation Serif", "Times New Roman", "DejaVu Serif", serif';
const COLORS = { black: '#000000', red: '#ff0000', green: '#00ff00', blue: '#0000ff' };
const PURPLE = '#6a0a4c';

const panels = [
  { bands: bandsTL, dos: { green: dosTL_green, red: dosTL_red, black: dosTL_black, blue: dosTL_blue },
    bandRect: [244, 6, 158, 588], dosRect: [407, 6, 125, 588], bottom: false },
  { bands: bandsBL, dos: { green: dosBL_green, red: dosBL_red, blue: dosBL_blue, black: dosBL_black },
    bandRect: [244, 604, 158, 588], dosRect: [407, 604, 126, 588], bottom: true },
  { bands: bandsTR, dos: { green: dosTR_green, red: dosTR_red, black: dosTR_black, blue: dosTR_blue },
    bandRect: [808, 14, 158, 586], dosRect: [971, 14, 125, 586], bottom: false },
  { bands: bandsBR, dos: { green: dosBR_green, red: dosBR_red, blue: dosBR_blue, black: dosBR_black },
    bandRect: [808, 612, 158, 588], dosRect: [971, 612, 125, 588], bottom: true }
];

const grid = [], xAxis = [], yAxis = [], series = [];
const tickStyle = { color: '#000', width: 2 };
const LABEL_SIZE = 34;

function gridOf(r) {
  return { left: r[0], top: r[1], width: r[2], height: r[3], show: true,
           borderColor: '#000', borderWidth: 2, backgroundColor: 'transparent' };
}
function energyAxis(gi, pos, vals, len, labels) {
  return {
    type: 'value', gridIndex: gi, position: pos, min: -5, max: 7,
    axisLine: { show: false, onZero: false },
    splitLine: { show: false },
    axisTick: { show: true, inside: true, length: len, customValues: vals, lineStyle: tickStyle },
    axisLabel: labels
      ? { show: true, customValues: vals, margin: 12, color: '#000', fontFamily: SERIF,
          fontWeight: 'bold', fontSize: LABEL_SIZE }
      : { show: false }
  };
}
function dosAxis(gi, pos, vals, len, labels) {
  return {
    type: 'value', gridIndex: gi, position: pos, min: 0, max: 1.6,
    axisLine: { show: false, onZero: false },
    splitLine: { show: false },
    axisTick: { show: true, inside: true, length: len, customValues: vals, lineStyle: tickStyle },
    axisLabel: labels
      ? { show: true, customValues: vals, margin: 12, color: '#000', fontFamily: SERIF,
          fontWeight: 'bold', fontSize: LABEL_SIZE, formatter: v => String(v) }
      : { show: false }
  };
}
function nearestK(v) {
  let best = 0;
  kTicks.forEach((k, i) => { if (Math.abs(k - v) < Math.abs(kTicks[best] - v)) best = i; });
  return kLabels[best];
}
const dashed = { color: '#000', width: 1, type: [4, 3] };

panels.forEach(p => {
  const gB = grid.length; grid.push(gridOf(p.bandRect));
  const gD = grid.length; grid.push(gridOf(p.dosRect));

  const xB = xAxis.length;
  xAxis.push({
    type: 'value', gridIndex: gB, min: 0, max: 1,
    axisLine: { show: false, onZero: false }, axisTick: { show: false }, splitLine: { show: false },
    axisLabel: p.bottom
      ? { show: true, customValues: kTicks, formatter: nearestK, margin: 12, color: '#000',
          fontFamily: SERIF, fontWeight: 'bold', fontSize: LABEL_SIZE }
      : { show: false }
  });
  const yB = yAxis.length;
  yAxis.push(energyAxis(gB, 'left', energyMajor, 25, true));
  yAxis.push(energyAxis(gB, 'left', energyMinor, 12, false));
  yAxis.push(energyAxis(gB, 'right', energyMajor, 25, false));
  yAxis.push(energyAxis(gB, 'right', energyMinor, 12, false));

  const xD = xAxis.length;
  xAxis.push(dosAxis(gD, 'bottom', dosMajor, 24, p.bottom));
  xAxis.push(dosAxis(gD, 'bottom', dosMinor, 12, false));
  xAxis.push(dosAxis(gD, 'top', dosMajor, 24, false));
  xAxis.push(dosAxis(gD, 'top', dosMinor, 12, false));
  const yD = yAxis.length;
  yAxis.push(energyAxis(gD, 'left', energyMajor, 26, false));
  yAxis.push(energyAxis(gD, 'left', energyMinor, 13, false));

  // bands
  p.bands.forEach((b, i) => {
    const s = {
      type: 'line', xAxisIndex: xB, yAxisIndex: yB, silent: true, animation: false,
      data: kGrid.map((k, j) => [k, b[j]]), smooth: 0.45, symbol: 'none', clip: true,
      lineStyle: { color: '#000', width: 2 }, z: 3
    };
    if (i === 0) {
      s.markLine = {
        silent: true, symbol: ['none', 'none'], label: { show: false }, animation: false,
        lineStyle: dashed,
        data: [{ yAxis: 0 }].concat(kTicks.slice(1, -1).map(k => ({ xAxis: k })))
      };
    }
    series.push(s);
  });

  // projected DOS curves
  Object.keys(p.dos).forEach((c, i) => {
    const s = {
      type: 'line', xAxisIndex: xD, yAxisIndex: yD, silent: true, animation: false,
      data: p.dos[c].map(d => [d[1], d[0]]), symbol: 'none', clip: true,
      lineStyle: { color: COLORS[c], width: 3, join: 'round' }, z: 3 + i
    };
    if (i === 0) {
      s.markLine = {
        silent: true, symbol: ['none', 'none'], label: { show: false }, animation: false,
        lineStyle: dashed, data: [{ yAxis: 0 }]
      };
    }
    series.push(s);
  });
});

// ---------- orbital labels (cyan boxes) ----------
const measureCtx = document.createElement('canvas').getContext('2d');
function textWidth(t, size) {
  measureCtx.font = 'bold ' + size + 'px ' + SERIF;
  return measureCtx.measureText(t).width;
}
function textEl(x, y, t, size, color) {
  return { type: 'text', x: x, y: y, z: 20, silent: true,
           style: { text: t, fill: color, font: 'bold ' + size + 'px ' + SERIF,
                    textAlign: 'left', textVerticalAlign: 'middle', verticalAlign: 'middle' } };
}
// parts: plain strings, or {sup, sub} stacked script pieces
function formulaLine(cx, base, parts, color) {
  const F = 36, S = 29;
  const widths = parts.map(p => typeof p === 'string' ? textWidth(p, F)
    : Math.max(p.sup ? textWidth(p.sup, S) : 0, p.sub ? textWidth(p.sub, S) : 0));
  let x = cx - widths.reduce((a, b) => a + b, 0) / 2;
  const els = [];
  parts.forEach((p, i) => {
    if (typeof p === 'string') {
      els.push(textEl(x, base - 0.30 * F, p, F, color));
    } else {
      if (p.sup) els.push(textEl(x + 1, base - 0.71 * F - 0.30 * S, p.sup, S, color));
      if (p.sub) els.push(textEl(x + 1, base + 0.42 * F - 0.30 * S, p.sub, S, color));
    }
    x += widths[i];
  });
  return els;
}
const egSigma = (el) => [el + '-e', { sup: 'σ', sub: 'g' }, '(8)'];
const egPi = (el) => [el + '-e', { sup: 'π', sub: 'g' }, '(8)'];
const a1g = (el) => [el + ' a', { sub: '1g' }, '(4)'];
const cuX2 = ['Cu x', { sup: '2' }, '-y', { sup: '2' }, '(3)'];

const boxes = [
  { rect: [15, 24, 186, 94], lines: [[83, egSigma('Cr'), '#000']] },
  { rect: [14, 155, 187, 120], lines: [[188, a1g('Cr'), '#000'], [251, egPi('Cr'), PURPLE]] },
  { rect: [13, 334, 188, 67], lines: [[383, cuX2, '#000']] },
  { rect: [9, 688, 191, 158], lines: [[754, egSigma('Cr'), '#000'], [830, cuX2, PURPLE]] },
  { rect: [14, 870, 188, 67], lines: [[908, a1g('Cr'), '#000']] },
  { rect: [573, 238, 190, 158], lines: [[300, egSigma('Co'), '#000'], [380, cuX2, PURPLE]] },
  { rect: [573, 737, 188, 187], lines: [[790, egSigma('Co'), '#000'], [844, a1g('Co'), PURPLE], [915, cuX2, '#000']] }
];

const graphic = [];
boxes.forEach(b => {
  graphic.push({ type: 'rect', z: 10, silent: true,
    shape: { x: b.rect[0], y: b.rect[1], width: b.rect[2], height: b.rect[3] },
    style: { fill: '#00ffff', stroke: '#123c3c', lineWidth: 2 } });
  const cx = b.rect[0] + b.rect[2] / 2;
  b.lines.forEach(l => formulaLine(cx, l[0], l[1], l[2]).forEach(e => graphic.push(e)));
});
// divider between the two compounds
graphic.push({ type: 'line', z: 10, silent: true,
  shape: { x1: 553, y1: 8, x2: 553, y2: 1202 },
  style: { stroke: '#000', lineWidth: 4, lineDash: [22, 12] } });

const chart = echarts.init(document.getElementById('chart'), null, { renderer: 'canvas' });
chart.setOption({
  backgroundColor: '#ffffff',
  animation: false,
  grid: grid, xAxis: xAxis, yAxis: yAxis, series: series, graphic: graphic
});
</script>
</body>
</html>
